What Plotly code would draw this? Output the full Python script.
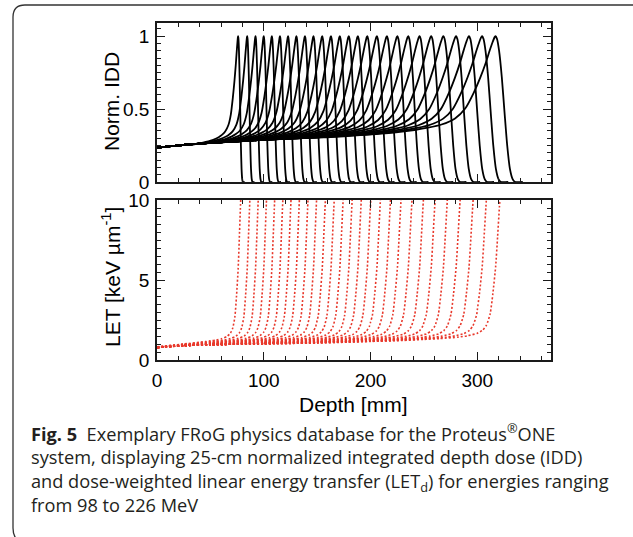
import numpy as np
import plotly.graph_objects as go

# ---------------- data ----------------
# Bragg-peak depths (mm), one per energy (98 -> 226 MeV)
peak_depth_mm = [76.0, 84.5, 92.3, 100.0, 107.6, 115.2, 122.8, 130.6, 138.6,
                 146.6, 154.8, 163.0, 171.3, 179.7, 188.2, 197.0, 206.0, 215.4,
                 225.2, 235.4, 246.0, 256.9, 268.3, 280.2, 292.3, 304.6, 317.2]

# IDD entrance plateau (band of overlapping curves)
idd_plateau_depth = [0, 25, 50, 100, 150, 200, 250, 300, 340]
idd_plateau_value = [0.235, 0.255, 0.268, 0.290, 0.305, 0.315, 0.325, 0.333, 0.338]

# Bragg-peak profile (depth as fraction of peak depth)
idd_rel_depth_pre = [0.5, 0.6, 0.7, 0.76, 0.8, 0.84, 0.88, 0.91, 0.935, 0.955,
                     0.97, 0.982, 0.991, 0.997, 1.0]
idd_peak_excess = [0.0, 0.012, 0.03, 0.05, 0.07, 0.10, 0.16, 0.26, 0.42, 0.58,
                   0.72, 0.85, 0.94, 0.99, 1.0]
idd_rel_depth_post = [1.004, 1.01, 1.018, 1.026, 1.034, 1.042, 1.05, 1.058, 1.08]
idd_falloff = [0.98, 0.90, 0.72, 0.48, 0.25, 0.09, 0.02, 0.0, 0.0]

# LET_d plateau and distal rise
let_plateau_depth = [0, 25, 50, 100, 150, 200, 250, 300, 340]
let_plateau_value = [0.78, 0.90, 0.96, 1.02, 1.06, 1.10, 1.13, 1.16, 1.18]
let_rel_t = [-10.0, -8.0, -5.0, -3.0, -2.0, -1.5, -1.0, -0.7, -0.5, -0.3,
             -0.15, 0.0, 0.1, 0.2, 0.3]
let_rise = [0.0, 0.03, 0.1, 0.2, 0.28, 0.36, 0.5, 0.7, 1.0, 1.7,
            3.0, 4.7, 6.5, 8.4, 10.2]

x_ticks = [0, 100, 200, 300]
idd_ticks = [0, 0.5, 1]
idd_tick_text = ["0", "0.5", "1"]
let_ticks = [0, 5, 10]

# ---------------- figure ----------------
W, H = 633, 537
L, R_, T, B = 157, 82, 23, 177
PW, PH = W - L - R_, H - T - B


def px(x):
    return (x - L) / PW


def py(y):
    return (H - B - y) / PH


fig = go.Figure()

for Rp in peak_depth_mm:
    base_R = float(np.interp(Rp, idd_plateau_depth, idd_plateau_value))
    d_pre = [d for d in idd_plateau_depth if d < 0.5 * Rp] + [u * Rp for u in idd_rel_depth_pre]
    e_pre = [0.0] * (len(d_pre) - len(idd_rel_depth_pre)) + idd_peak_excess
    y_pre = [float(np.interp(d, idd_plateau_depth, idd_plateau_value)) + (1 - base_R) * e
             for d, e in zip(d_pre, e_pre)]
    d_post = [u * Rp for u in idd_rel_depth_post]
    fig.add_trace(go.Scatter(
        x=d_pre + d_post, y=y_pre + idd_falloff, mode="lines",
        line=dict(color="black", width=1.8, shape="spline", smoothing=0.6),
        xaxis="x2", yaxis="y2", showlegend=False, hoverinfo="skip"))

for Rp in peak_depth_mm:
    w = 0.03 * Rp + 8
    ds = sorted(set([d for d in let_plateau_depth if d < Rp + let_rel_t[-1] * w] +
                    [Rp + t * w for t in let_rel_t if Rp + t * w >= 0] + [0.0]))
    ys = [float(np.interp(d, let_plateau_depth, let_plateau_value)) +
          float(np.interp((d - Rp) / w, let_rel_t, let_rise)) for d in ds]
    fig.add_trace(go.Scatter(
        x=ds, y=ys, mode="lines",
        line=dict(color="#e8392c", width=1.6, dash="2px,2px", shape="spline", smoothing=0.6),
        xaxis="x", yaxis="y", showlegend=False, hoverinfo="skip"))

tick_font = dict(family="Liberation Sans, Arial, sans-serif", size=19, color="black")
axis_common = dict(showline=True, linecolor="#1a1a1a", linewidth=1.5, mirror="allticks",
                   ticks="inside", ticklen=8, tickwidth=1.3, tickcolor="#1a1a1a",
                   showgrid=False, zeroline=False, tickfont=tick_font)

fig.update_layout(
    width=W, height=H, margin=dict(l=L, r=R_, t=T, b=B),
    paper_bgcolor="white", plot_bgcolor="white",
    xaxis=dict(axis_common, range=[0, 369], domain=[0, 1], anchor="y",
               tickvals=x_ticks, ticktext=[str(v) for v in x_ticks], ticklabelstandoff=2,
               minor=dict(ticks="inside", ticklen=4, tickwidth=1.2, tickcolor="#1a1a1a", dtick=20, tick0=0)),
    yaxis=dict(axis_common, range=[0, 10], domain=[0, py(200)], anchor="x",
               tickvals=let_ticks, ticktext=[str(v) for v in let_ticks], ticklabelstandoff=2,
               minor=dict(ticks="inside", ticklen=4, tickwidth=1.2, tickcolor="#1a1a1a", dtick=0.5, tick0=0)),
    xaxis2=dict(axis_common, range=[0, 369], domain=[0, 1], anchor="y2", matches="x",
                tickvals=x_ticks, showticklabels=False,
                minor=dict(ticks="inside", ticklen=4, tickwidth=1.2, tickcolor="#1a1a1a", dtick=20, tick0=0)),
    yaxis2=dict(axis_common, range=[0, 1.09], domain=[py(182), 1], anchor="x2",
                tickvals=idd_ticks, ticktext=idd_tick_text, ticklabelstandoff=2,
                minor=dict(ticks="inside", ticklen=4, tickwidth=1.2, tickcolor="#1a1a1a", dtick=0.05, tick0=0)),
)

title_font = dict(family="Liberation Sans, Arial, sans-serif", size=21, color="black")
fig.add_annotation(text="Norm. IDD", x=px(111), y=py(102), xref="paper", yref="paper",
                   textangle=-90, showarrow=False, font=title_font, xanchor="center", yanchor="middle")
fig.add_annotation(text="LET [keV µm<sup>-1</sup>]", x=px(111), y=py(277), xref="paper", yref="paper",
                   textangle=-90, showarrow=False, font=title_font, xanchor="center", yanchor="middle")
fig.add_annotation(text="Depth [mm]", x=px(353), y=py(404), xref="paper", yref="paper",
                   showarrow=False, font=title_font, xanchor="center", yanchor="middle")

cap_font = dict(family="Open Sans, sans-serif", size=18.2, color="#231f20")
caption_text = "<br>".join([
    "<b>Fig. 5</b>\u00a0\u00a0Exemplary FRoG physics database for the Proteus<sup>®</sup>ONE",
    "system, displaying 25-cm normalized integrated depth dose (IDD)",
    "and dose-weighted linear energy transfer (LET<sub>d</sub>) for energies ranging",
    "from 98 to 226 MeV",
])
fig.add_annotation(text=caption_text, x=px(29), y=py(417), xref="paper", yref="paper",
                   showarrow=False, font=cap_font, xanchor="left", yanchor="top", align="left")

border = (f"M {px(640)} {py(5)} L {px(25)} {py(5)} Q {px(13)} {py(5)} {px(13)} {py(17)} "
          f"L {px(13)} {py(528)} Q {px(13)} {py(538)} {px(20)} {py(542)}")
fig.add_shape(type="path", path=border, xref="paper", yref="paper",
              line=dict(color="#333333", width=1.3))

fig.write_html("out.html", config={"displayModeBar": False},
               post_script="document.body.style.margin='0';")
